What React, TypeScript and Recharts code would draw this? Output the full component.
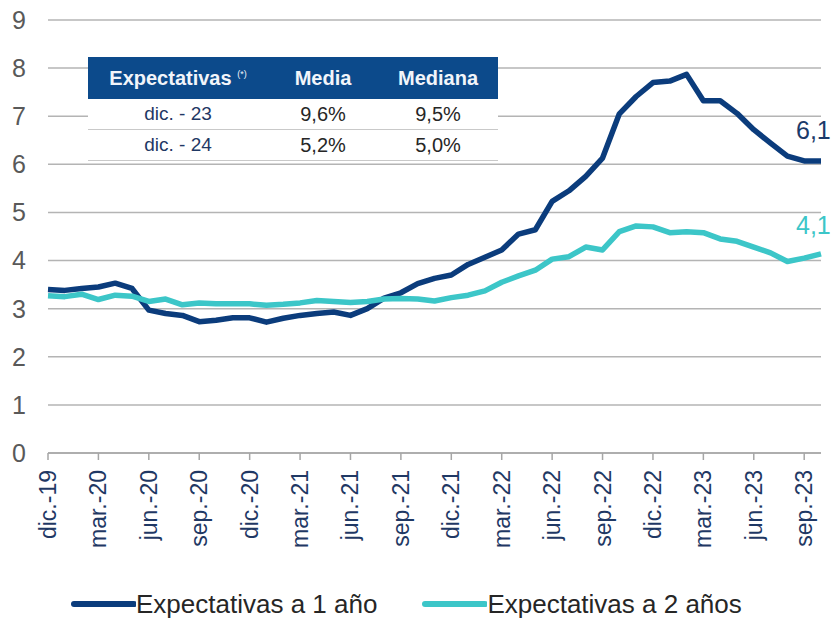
import React from 'react';
import { LineChart, Line, XAxis, YAxis, CartesianGrid, Legend, LabelList } from 'recharts';

const MONTHS = [
  'dic.-19', 'ene.-20', 'feb.-20', 'mar.-20', 'abr.-20', 'may.-20', 'jun.-20', 'jul.-20', 'ago.-20', 'sep.-20', 'oct.-20', 'nov.-20',
  'dic.-20', 'ene.-21', 'feb.-21', 'mar.-21', 'abr.-21', 'may.-21', 'jun.-21', 'jul.-21', 'ago.-21', 'sep.-21', 'oct.-21', 'nov.-21',
  'dic.-21', 'ene.-22', 'feb.-22', 'mar.-22', 'abr.-22', 'may.-22', 'jun.-22', 'jul.-22', 'ago.-22', 'sep.-22', 'oct.-22', 'nov.-22',
  'dic.-22', 'ene.-23', 'feb.-23', 'mar.-23', 'abr.-23', 'may.-23', 'jun.-23', 'jul.-23', 'ago.-23', 'sep.-23', 'oct.-23',
];

const EXP_1Y = [
  3.40, 3.38, 3.42, 3.45, 3.53, 3.42, 2.97, 2.90, 2.86, 2.73, 2.76, 2.81,
  2.81, 2.72, 2.80, 2.86, 2.90, 2.93, 2.86, 3.00, 3.22, 3.33, 3.52, 3.63,
  3.70, 3.92, 4.07, 4.22, 4.55, 4.64, 5.23, 5.45, 5.75, 6.13, 7.05, 7.41,
  7.70, 7.73, 7.87, 7.32, 7.32, 7.06, 6.72, 6.44, 6.17, 6.07, 6.07,
];

const EXP_2Y = [
  3.27, 3.25, 3.30, 3.19, 3.28, 3.26, 3.15, 3.20, 3.08, 3.12, 3.10, 3.10,
  3.10, 3.07, 3.09, 3.12, 3.17, 3.15, 3.13, 3.15, 3.20, 3.21, 3.20, 3.16,
  3.23, 3.28, 3.37, 3.55, 3.68, 3.80, 4.03, 4.08, 4.28, 4.22, 4.60, 4.72,
  4.70, 4.58, 4.60, 4.58, 4.45, 4.40, 4.28, 4.16, 3.98, 4.05, 4.14,
];

const Y_TICKS = [0, 1, 2, 3, 4, 5, 6, 7, 8, 9];
// month offsets (from dic.-19) of the labelled quarterly ticks
const X_TICKS = [0, 3, 6, 9, 12, 15, 18, 21, 24, 27, 30, 33, 36, 39, 42, 45];

const SERIES_NAMES = ['Expectativas a 1 año', 'Expectativas a 2 años'];
const COLOR_1Y = '#0b3c7c';
const COLOR_2Y = '#3cc6c8';

const TABLE_HEAD = ['Expectativas', 'Media', 'Mediana'];
const TABLE_ROWS = [
  ['dic. - 23', '9,6%', '9,5%'],
  ['dic. - 24', '5,2%', '5,0%'],
];

const data = MONTHS.map((m, i) => ({ month: m, a1: EXP_1Y[i], a2: EXP_2Y[i] }));
const LAST = MONTHS.length - 1;

const FONT = '"Liberation Sans", Arial, sans-serif';

const XTick = (props: any) => {
  const { x, y, payload } = props;
  return (
    <text
      x={x}
      y={y}
      transform={`rotate(-90, ${x}, ${y})`}
      textAnchor="end"
      dominantBaseline="central"
      fontSize={23}
      fontFamily={FONT}
      fill="#1f3864"
    >
      {MONTHS[payload.value]}
    </text>
  );
};

const endLabel = (color: string, dx: number, dy: number) => (props: any) => {
  const { x, y, index, value } = props;
  if (index !== LAST) return null;
  return (
    <text x={x + dx} y={y + dy} fill={color} fontSize={25} fontFamily={FONT}>
      {Number(value).toFixed(1).replace('.', ',')}
    </text>
  );
};

const renderLegend = () => (
  <div style={{ display: 'flex', alignItems: 'center', height: 32, paddingLeft: 70, paddingTop: 4, boxSizing: 'border-box', fontFamily: FONT }}>
    {[COLOR_1Y, COLOR_2Y].map((c, i) => (
      <div key={i} style={{ display: 'flex', alignItems: 'center', marginRight: 44 }}>
        <svg width={66} height={10}>
          <line x1={4} y1={5} x2={64} y2={5} stroke={c} strokeWidth={6} strokeLinecap="round" />
        </svg>
        <span style={{ fontSize: 26, color: '#262626', lineHeight: '28px' }}>{SERIES_NAMES[i]}</span>
      </div>
    ))}
  </div>
);

export default function App() {
  return (
    <div style={{ position: 'absolute', left: 0, top: 0, width: 833, height: 618, background: '#fff', fontFamily: FONT }}>
      <LineChart width={833} height={618} data={data} margin={{ top: 20, right: 12, left: 0, bottom: 0 }}>
        <CartesianGrid xAxisId="data" vertical={false} stroke="#b4b4b4" strokeWidth={1.5} />
        <XAxis xAxisId="data" dataKey="month" hide height={0} />
        <XAxis
          xAxisId="lab"
          type="number"
          domain={[-0.06, 45.49]}
          allowDataOverflow
          ticks={X_TICKS}
          interval={0}
          height={133}
          tick={<XTick />}
          tickSize={7}
          tickMargin={10}
          tickLine={{ stroke: '#a6a6a6', strokeWidth: 1.5 }}
          axisLine={{ stroke: '#a6a6a6', strokeWidth: 1.5 }}
        />
        <YAxis
          width={48}
          domain={[0, 9]}
          ticks={Y_TICKS}
          interval={0}
          axisLine={false}
          tickLine={false}
          tickSize={0}
          tickMargin={22}
          tick={{ fontSize: 25, fill: '#595959', fontFamily: FONT }}
        />
        <Legend verticalAlign="bottom" content={renderLegend} wrapperStyle={{ left: 0, bottom: 0, width: 833, height: 32 }} />
        <Line
          xAxisId="data"
          type="linear"
          dataKey="a1"
          name={SERIES_NAMES[0]}
          stroke={COLOR_1Y}
          strokeWidth={5.5}
          strokeLinejoin="round"
          dot={false}
          isAnimationActive={false}
        >
          <LabelList dataKey="a1" content={endLabel('#1b3a6a', -25, -22)} />
        </Line>
        <Line
          xAxisId="data"
          type="linear"
          dataKey="a2"
          name={SERIES_NAMES[1]}
          stroke={COLOR_2Y}
          strokeWidth={5.5}
          strokeLinejoin="round"
          dot={false}
          isAnimationActive={false}
        >
          <LabelList dataKey="a2" content={endLabel(COLOR_2Y, -25, -20)} />
        </Line>
      </LineChart>

      <div style={{ position: 'absolute', left: 88, top: 57, width: 410, background: '#fff' }}>
        <div style={{ display: 'flex', height: 42, alignItems: 'center', background: '#0c4a8b', color: '#f2f5fa', fontWeight: 'bold', fontSize: 20 }}>
          <div style={{ width: 180, textAlign: 'center' }}>
            {TABLE_HEAD[0]} <sup style={{ fontSize: 9, fontWeight: 'normal' }}>(*)</sup>
          </div>
          <div style={{ width: 110, textAlign: 'center' }}>{TABLE_HEAD[1]}</div>
          <div style={{ width: 120, textAlign: 'center' }}>{TABLE_HEAD[2]}</div>
        </div>
        {TABLE_ROWS.map((r, i) => (
          <div key={i} style={{ display: 'flex', height: 30, alignItems: 'center', borderBottom: '1.5px solid #c9c9c9', fontSize: 20 }}>
            <div style={{ width: 180, textAlign: 'center', color: '#1f3864', fontSize: 19 }}>{r[0]}</div>
            <div style={{ width: 110, textAlign: 'center', color: '#262626' }}>{r[1]}</div>
            <div style={{ width: 120, textAlign: 'center', color: '#262626' }}>{r[2]}</div>
          </div>
        ))}
      </div>
    </div>
  );
}
